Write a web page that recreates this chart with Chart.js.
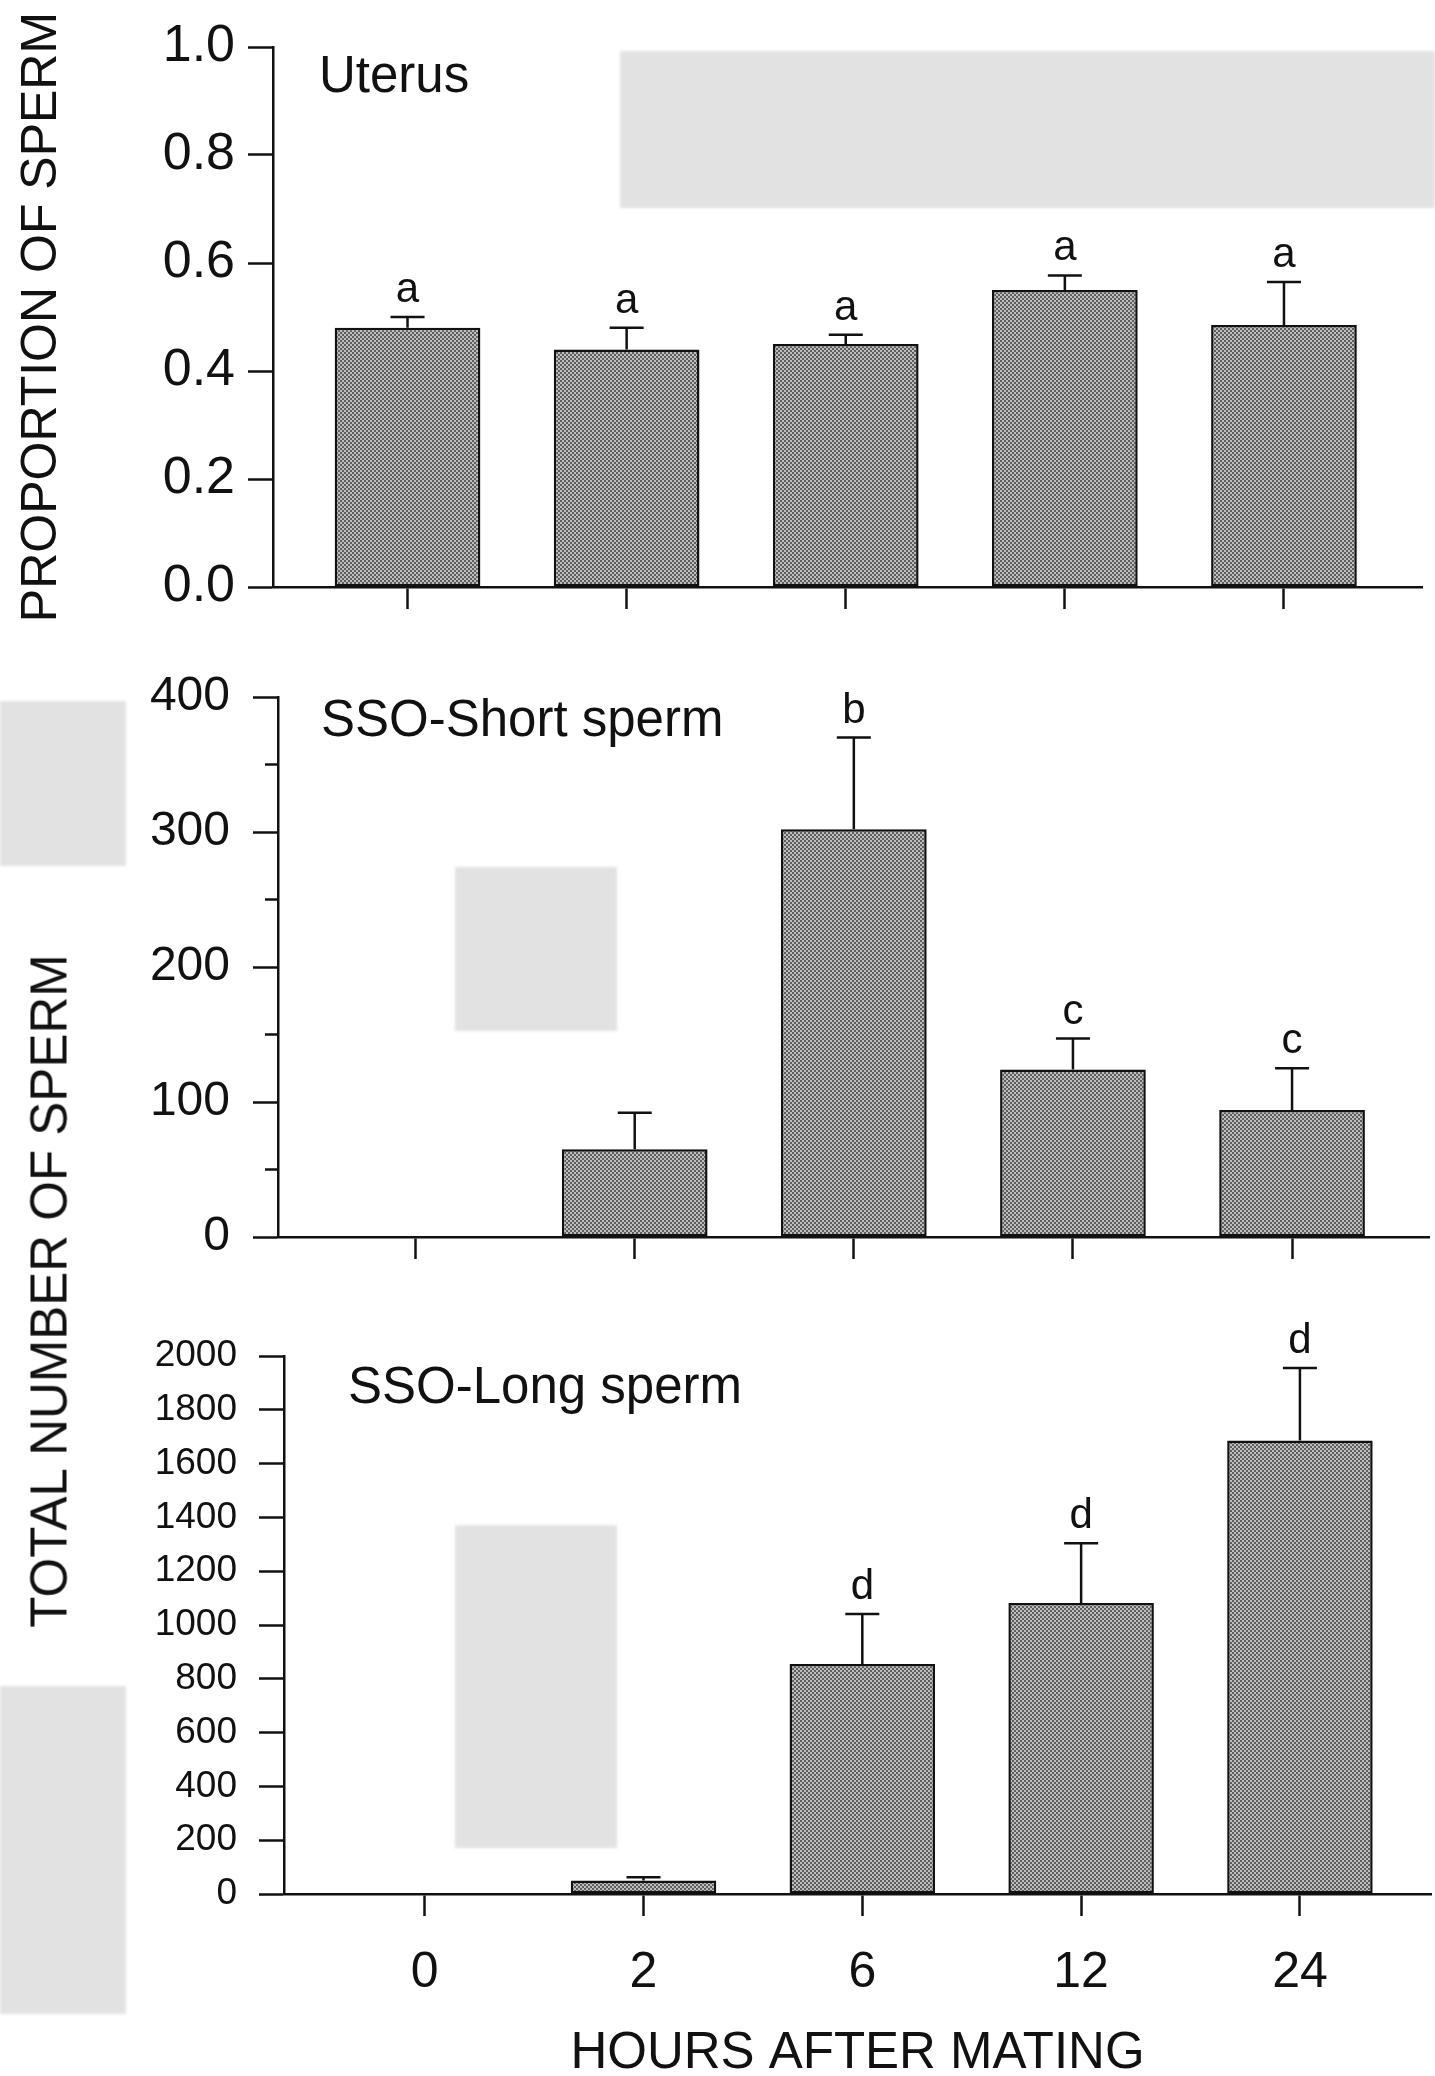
<!DOCTYPE html>
<html><head><meta charset="utf-8">
<script src="https://cdn.jsdelivr.net/npm/chart.js@4.4.1/dist/chart.umd.min.js"></script>
<style>
html,body{margin:0;padding:0;background:#fff;overflow:hidden;}
#page{position:relative;width:1435px;height:2076px;overflow:hidden;background:#fff;font-family:"Liberation Sans",Arial,Helvetica,sans-serif;color:#111;}
.blk{position:absolute;background:#e2e2e2;filter:blur(1.5px);}
canvas{position:absolute;left:0;}
#ytitle2{position:absolute;left:49px;top:1291px;transform:translate(-50%,-50%) rotate(-90deg);white-space:nowrap;font-size:51px;line-height:1;}
</style></head><body>
<div id="page">
  <div class="blk" style="left:620px;top:51px;width:815px;height:157px"></div>
  <div class="blk" style="left:0;top:701px;width:126px;height:165px"></div>
  <div class="blk" style="left:455px;top:867px;width:162px;height:164px"></div>
  <div class="blk" style="left:455px;top:1525px;width:162px;height:323px"></div>
  <div class="blk" style="left:0;top:1686px;width:126px;height:328px"></div>
  <canvas id="c1" width="1435" height="640" style="top:0"></canvas>
  <canvas id="c2" width="1435" height="640" style="top:640px"></canvas>
  <canvas id="c3" width="1435" height="806" style="top:1280px"></canvas>
  <div id="ytitle2">TOTAL NUMBER OF SPERM</div>
</div>
<script>
// ---------- data ----------
const hours = ['0', '2', '6', '12', '24'];

const uterusMean    = [0.48, 0.44, 0.45, 0.55, 0.485];
const uterusSE      = [0.02, 0.04, 0.017, 0.027, 0.08];
const uterusLetters = ['a', 'a', 'a', 'a', 'a'];

const shortMean    = [0, 65, 302, 124, 94];
const shortSE      = [0, 27, 68, 23, 31];
const shortLetters = ['', '', 'b', 'c', 'c'];

const longMean    = [0, 50, 855, 1082, 1686];
const longSE      = [0, 12, 186, 222, 269];
const longLetters = ['', '', 'd', 'd', 'd'];

// ---------- styling helpers ----------
const FONT = '"Liberation Sans", Arial, Helvetica, sans-serif';
const INK = '#111';
Chart.defaults.font.family = FONT;
Chart.defaults.color = INK;

function barPattern() {
  const c = document.createElement('canvas');
  c.width = 4; c.height = 4;
  const g = c.getContext('2d');
  g.fillStyle = '#bdbdbd'; g.fillRect(0, 0, 4, 4);
  g.fillStyle = '#5e5e5e'; g.fillRect(0, 0, 2, 2); g.fillRect(2, 2, 2, 2);
  return g.createPattern(c, 'repeat');
}
const PATTERN = barPattern();

const errPlugin = {
  id: 'errbars',
  afterDatasetsDraw(chart) {
    const ctx = chart.ctx, ys = chart.scales.y;
    const ds = chart.data.datasets[0];
    const meta = chart.getDatasetMeta(0);
    ctx.save();
    ctx.strokeStyle = INK; ctx.fillStyle = INK; ctx.lineWidth = 2.5;
    ctx.font = '42px ' + FONT; ctx.textAlign = 'center'; ctx.textBaseline = 'alphabetic';
    meta.data.forEach((bar, i) => {
      const v = ds.data[i].y, se = ds.errors[i];
      const x = bar.x;
      const yBar = ys.getPixelForValue(v), yTop = ys.getPixelForValue(v + se);
      if (se > 0) {
        ctx.beginPath();
        ctx.moveTo(x, yBar); ctx.lineTo(x, yTop);
        ctx.moveTo(x - 17, yTop); ctx.lineTo(x + 17, yTop);
        ctx.stroke();
      }
      if (ds.letters[i]) ctx.fillText(ds.letters[i], x, yTop - 15);
    });
    ctx.restore();
  }
};

const minorTickPlugin = {
  id: 'minorTicks',
  afterDraw(chart, args, opts) {
    const s = chart.scales.y, ctx = chart.ctx;
    ctx.save();
    ctx.strokeStyle = INK; ctx.lineWidth = 2.5;
    s.ticks.forEach((t, i) => {
      if (t.label === '') {
        const y = s.getPixelForTick(i);
        ctx.beginPath(); ctx.moveTo(s.right, y); ctx.lineTo(s.right - opts.length, y); ctx.stroke();
      }
    });
    ctx.restore();
  }
};

const panelLabelPlugin = {
  id: 'panelLabel',
  afterDraw(chart, args, opts) {
    const ctx = chart.ctx, a = chart.chartArea;
    ctx.save();
    ctx.fillStyle = INK; ctx.font = '51px ' + FONT;
    ctx.textAlign = 'left'; ctx.textBaseline = 'middle';
    ctx.fillText(opts.text, a.left + opts.dx, a.top + opts.dy);
    ctx.restore();
  }
};

function isMajor(v, major) {
  return Math.abs(Math.round(v / major) * major - v) < 1e-6;
}

function makePanel(id, p) {
  return new Chart(document.getElementById(id), {
    type: 'bar',
    data: {
      datasets: [{
        data: p.mean.map((v, i) => ({ x: i, y: v })),
        errors: p.se,
        letters: p.letters,
        backgroundColor: PATTERN,
        borderColor: INK,
        borderWidth: 2.5,
        borderSkipped: false,
        barPercentage: 0.665,
        categoryPercentage: 1
      }]
    },
    options: {
      responsive: false,
      animation: false,
      events: [],
      layout: { padding: { top: p.top, right: 1435 - p.right, left: 0, bottom: 0 } },
      plugins: {
        legend: { display: false },
        tooltip: { enabled: false },
        minorTicks: { length: 13 },
        panelLabel: { text: p.label, dx: p.labelDx, dy: p.labelDy }
      },
      scales: {
        x: {
          type: 'linear', min: p.xmin, max: p.xmax, offset: false,
          afterFit(s) { s.height = p.xHeight; },
          afterBuildTicks(s) { s.ticks = hours.map((h, i) => ({ value: i })); },
          border: { color: INK, width: 2.5 },
          grid: { offset: false, drawOnChartArea: false, drawTicks: true, tickLength: 22, tickWidth: 2.5, tickColor: INK },
          ticks: { display: p.showX, padding: 27, autoSkip: false, maxRotation: 0, font: { size: 50 }, color: INK,
                   callback: v => hours[v] },
          title: { display: !!p.xTitle, text: p.xTitle || '', color: INK, font: { size: 51, lineHeight: 1 }, padding: { top: 0, bottom: 7 } }
        },
        y: {
          min: 0, max: p.max,
          afterFit(s) { s.width = p.left; s.paddingTop = 0; s.paddingBottom = 0; },
          border: { color: INK, width: 2.5 },
          grid: { drawOnChartArea: false, drawTicks: true, tickLength: 25, tickWidth: 2.5,
                  tickColor: c => (c.tick && isMajor(c.tick.value, p.major)) ? INK : 'rgba(0,0,0,0)' },
          ticks: { stepSize: p.minor, maxTicksLimit: 100, padding: p.tickPad, color: INK, font: { size: p.tickSize },
                   callback: v => isMajor(v, p.major) ? v.toFixed(p.decimals) : '' },
          title: { display: !!p.yTitle, text: p.yTitle || '', color: INK, font: { size: 50, lineHeight: 1 }, padding: { top: 17 } }
        }
      }
    },
    plugins: [errPlugin, minorTickPlugin, panelLabelPlugin]
  });
}

makePanel('c1', {
  mean: uterusMean, se: uterusSE, letters: uterusLetters,
  label: 'Uterus', labelDx: 46, labelDy: 31,
  top: 47, right: 1422, left: 273, xHeight: 53, xmin: -0.614, xmax: 4.630,
  max: 1, minor: 0.1, major: 0.2, decimals: 1, tickSize: 52, tickPad: 13,
  yTitle: 'PROPORTION OF SPERM', showX: false
});
makePanel('c2', {
  mean: shortMean, se: shortSE, letters: shortLetters,
  label: 'SSO-Short sperm', labelDx: 43, labelDy: 25,
  top: 57, right: 1429, left: 278, xHeight: 43, xmin: -0.628, xmax: 4.625,
  max: 400, minor: 50, major: 100, decimals: 0, tickSize: 48, tickPad: 23,
  showX: false
});
makePanel('c3', {
  mean: longMean, se: longSE, letters: longLetters,
  label: 'SSO-Long sperm', labelDx: 64, labelDy: 33,
  top: 76, right: 1431, left: 284, xHeight: 192, xmin: -0.643, xmax: 4.599,
  max: 2000, minor: 100, major: 200, decimals: 0, tickSize: 37, tickPad: 22,
  xTitle: 'HOURS AFTER MATING', showX: true
});
</script>
</body></html>
